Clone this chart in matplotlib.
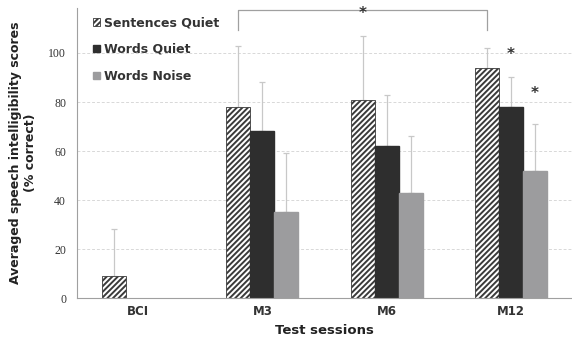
import numpy as np
import matplotlib.pyplot as plt

sessions = ['BCI', 'M3', 'M6', 'M12']
sentences_quiet = [9, 78, 81, 94]
sentences_err = [19, 25, 26, 8]
words_quiet = [np.nan, 68, 62, 78]
words_quiet_err = [np.nan, 20, 21, 12]
words_noise = [np.nan, 35, 43, 52]
words_noise_err = [np.nan, 24, 23, 19]

plt.rcParams['hatch.color'] = '#333333'
plt.rcParams['hatch.linewidth'] = 1.4

fig = plt.figure(figsize=(5.72, 3.43), dpi=100)
ax = fig.add_axes([0.135, 0.131, 0.865, 0.846])

x = np.arange(len(sessions))
w = 0.193
ekw = dict(ecolor='#c8c8c8', elinewidth=0.9, capsize=2.5, capthick=0.9)

ax.bar(x - w, sentences_quiet, w, color='white', edgecolor='#3a3a3a', linewidth=0.6,
       hatch='//////', label='Sentences Quiet', zorder=2)
ax.errorbar(x - w, sentences_quiet, yerr=[np.zeros(4), sentences_err], fmt='none', zorder=1, **ekw)
ax.bar(x, words_quiet, w, color='#2e2e2e', edgecolor='#2e2e2e', label='Words Quiet', zorder=2)
ax.errorbar(x, words_quiet, yerr=[np.zeros(4), words_quiet_err], fmt='none', zorder=1, **ekw)
ax.bar(x + w, words_noise, w, color='#9c9c9e', edgecolor='#9c9c9e', label='Words Noise', zorder=2)
ax.errorbar(x + w, words_noise, yerr=[np.zeros(4), words_noise_err], fmt='none', zorder=1, **ekw)

ax.set_xlim(-0.49, 3.49)
ax.set_ylim(0, 118.4)
ax.set_yticks([0, 20, 40, 60, 80, 100])
ax.yaxis.grid(True, linestyle=(0, (3, 2)), color='#d8d8d8', linewidth=0.7)
ax.set_axisbelow(True)
ax.set_xticks(x)
ax.set_xticklabels(sessions, fontweight='bold', fontsize=8.5, color='#333333')
for lab in ax.get_yticklabels():
    lab.set_family('Liberation Serif')
    lab.set_fontsize(8.5)
    lab.set_color('#333333')
ax.tick_params(axis='y', length=0, pad=8)
ax.tick_params(axis='x', length=0, pad=5)
for s in ['top', 'right']:
    ax.spines[s].set_visible(False)
for s in ['left', 'bottom']:
    ax.spines[s].set_color('#a0a0a0')

ax.set_ylabel('Averaged speech intelligibility scores\n(% correct)', fontweight='bold',
              fontsize=9, color='#222222', labelpad=8)
ax.set_xlabel('Test sessions', fontweight='bold', fontsize=9.5, color='#222222', labelpad=4)

# significance markers
ax.plot([1 - w, 1 - w, 3 - w, 3 - w], [109.5, 117.5, 117.5, 109.5], color='#a0a0a0',
        linewidth=0.9, clip_on=False)
ax.text(2 - w, 116.3, '*', ha='center', va='center', fontsize=11, color='#333333',
        fontweight='bold', clip_on=False)
ax.text(3, 99.3, '*', ha='center', va='center', fontsize=11, fontweight='bold', color='#333333')
ax.text(3 + w, 83.6, '*', ha='center', va='center', fontsize=11, fontweight='bold', color='#333333')

leg = ax.legend(loc='upper left', bbox_to_anchor=(0.01, 1.01), frameon=False, fontsize=9,
                handlelength=0.55, handleheight=0.55, handletextpad=0.3, labelspacing=1.1)
for t in leg.get_texts():
    t.set_fontweight('bold')
    t.set_color('#333333')

fig.savefig('out.png', dpi=100)
